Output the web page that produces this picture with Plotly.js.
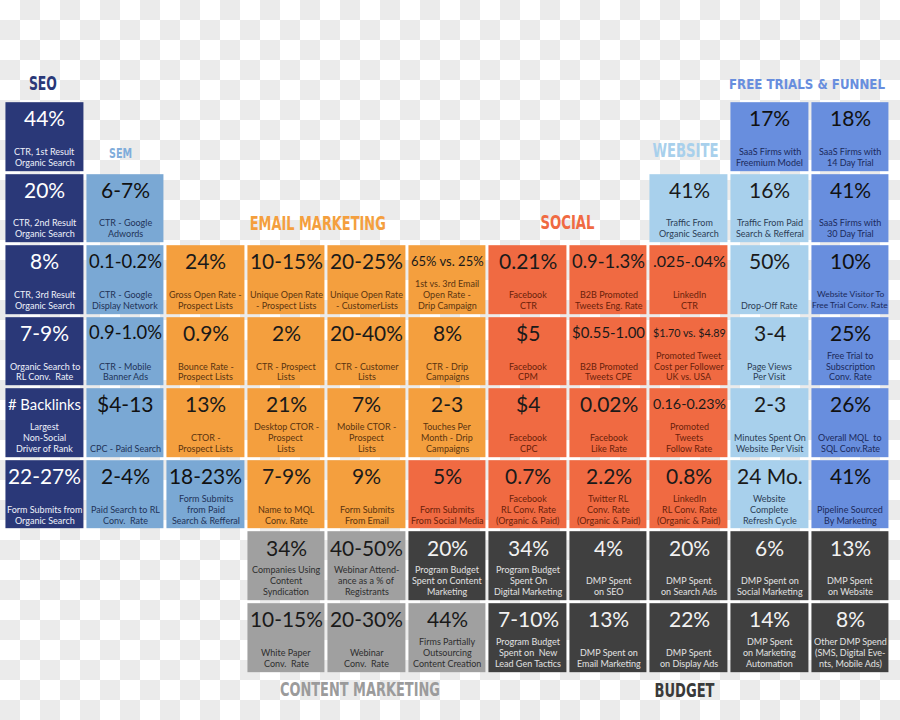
<!DOCTYPE html>
<html>
<head>
<meta charset="utf-8">
<script src="https://cdn.plot.ly/plotly-3.0.1.min.js"></script>
<style>
  html, body { margin: 0; padding: 0; }
  body {
    width: 900px; height: 720px; overflow: hidden;
    background-color: #ffffff;
    background-image: repeating-conic-gradient(#ebebeb 0 25%, #ffffff 0 50%);
    background-size: 40px 40px;
  }
  #chart { width: 900px; height: 720px; }
</style>
</head>
<body>
<div id="chart"></div>
<script>
// ---------------- DATA ----------------
const sections = ["SEO", "SEM", "EMAIL MARKETING", "SOCIAL", "WEBSITE",
                  "FREE TRIALS & FUNNEL", "CONTENT MARKETING", "BUDGET"];

// section index of each cell (rows top->bottom, columns left->right), null = empty
const cellSection = [
  [0, null, null, null, null, null, null, null, null, 5, 5],
  [0, 1, null, null, null, null, null, null, 4, 4, 5],
  [0, 1, 2, 2, 2, 2, 3, 3, 3, 4, 5],
  [0, 1, 2, 2, 2, 2, 3, 3, 3, 4, 5],
  [0, 1, 2, 2, 2, 2, 3, 3, 3, 4, 5],
  [0, 1, 1, 2, 2, 3, 3, 3, 3, 4, 5],
  [null, null, null, 6, 6, 7, 7, 7, 7, 7, 7],
  [null, null, null, 6, 6, 6, 7, 7, 7, 7, 7]
];

const cellValues = [
  ["44%", null, null, null, null, null, null, null, null, "17%", "18%"],
  ["20%", "6-7%", null, null, null, null, null, null, "41%", "16%", "41%"],
  ["8%", "0.1-0.2%", "24%", "10-15%", "20-25%", "65% vs. 25%", "0.21%", "0.9-1.3%", ".025-.04%", "50%", "10%"],
  ["7-9%", "0.9-1.0%", "0.9%", "2%", "20-40%", "8%", "$5", "$0.55-1.00", "$1.70 vs. $4.89", "3-4", "25%"],
  ["# Backlinks", "$4-13", "13%", "21%", "7%", "2-3", "$4", "0.02%", "0.16-0.23%", "2-3", "26%"],
  ["22-27%", "2-4%", "18-23%", "7-9%", "9%", "5%", "0.7%", "2.2%", "0.8%", "24 Mo.", "41%"],
  [null, null, null, "34%", "40-50%", "20%", "34%", "4%", "20%", "6%", "13%"],
  [null, null, null, "10-15%", "20-30%", "44%", "7-10%", "13%", "22%", "14%", "8%"]
];

const cellLabels = [
  ["CTR, 1st Result<br>Organic Search", null, null, null, null, null, null, null, null,
   "SaaS Firms with<br>Freemium Model", "SaaS Firms with<br>14 Day Trial"],
  ["CTR, 2nd Result<br>Organic Search", "CTR - Google<br>Adwords", null, null, null, null, null, null,
   "Traffic From<br>Organic Search", "Traffic From Paid<br>Search & Refferal", "SaaS Firms with<br>30 Day Trial"],
  ["CTR, 3rd Result<br>Organic Search", "CTR - Google<br>Display Network", "Gross Open Rate -<br>Prospect Lists",
   "Unique Open Rate<br>- Prospect Lists", "Unique Open Rate<br>- CustomerLists",
   "1st vs. 3rd Email<br>Open Rate -<br>Drip Campaign", "Facebook<br>CTR", "B2B Promoted<br>Tweets Eng. Rate",
   "LinkedIn<br>CTR", "Drop-Off Rate", "Website Visitor To<br>Free Trial Conv. Rate"],
  ["Organic Search to<br>RL Conv.  Rate", "CTR - Mobile<br>Banner Ads", "Bounce Rate -<br>Prospect Lists",
   "CTR - Prospect<br>Lists", "CTR - Customer<br>Lists", "CTR - Drip<br>Campaigns", "Facebook<br>CPM",
   "B2B Promoted<br>Tweets CPE", "Promoted Tweet<br>Cost per Follower<br>UK vs. USA", "Page Views<br>Per Visit",
   "Free Trial to<br>Subscription<br>Conv. Rate"],
  ["Largest<br>Non-Social<br>Driver of Rank", "CPC - Paid Search", "CTOR -<br>Prospect Lists",
   "Desktop CTOR -<br>Prospect<br>Lists", "Mobile CTOR -<br>Prospect<br>Lists", "Touches Per<br>Month - Drip<br>Campaigns",
   "Facebook<br>CPC", "Facebook<br>Like Rate", "Promoted<br>Tweets<br>Follow Rate",
   "Minutes Spent On<br>Website Per Visit", "Overall MQL  to<br>SQL Conv.Rate"],
  ["Form Submits from<br>Organic Search", "Paid Search to RL<br>Conv.  Rate", "Form Submits<br>from Paid<br>Search & Refferal",
   "Name to MQL<br>Conv. Rate", "Form Submits<br>From Email", "Form Submits<br>From Social Media",
   "Facebook<br>RL Conv. Rate<br>(Organic & Paid)", "Twitter RL<br>Conv. Rate<br>(Organic & Paid)",
   "LinkedIn<br>RL Conv. Rate<br>(Organic & Paid)", "Website<br>Complete<br>Refresh Cycle", "Pipeline Sourced<br>By Marketing"],
  [null, null, null, "Companies Using<br>Content<br>Syndication", "Webinar Attend-<br>ance as a % of<br>Registrants",
   "Program Budget<br>Spent on Content<br>Marketing", "Program Budget<br>Spent On<br>Digital Marketing",
   "DMP Spent<br>on SEO", "DMP Spent<br>on Search Ads", "DMP Spent on<br>Social Marketing", "DMP Spent<br>on Website"],
  [null, null, null, "White Paper<br>Conv.  Rate", "Webinar<br>Conv.  Rate", "Firms Partially<br>Outsourcing<br>Content Creation",
   "Program Budget<br>Spent on  New<br>Lead Gen Tactics", "DMP Spent on<br>Email Marketing", "DMP Spent<br>on Display Ads",
   "DMP Spent<br>on Marketing<br>Automation", "Other DMP Spend<br>(SMS, Digital Eve-<br>nts, Mobile Ads)"]
];

// ---------------- STYLE ----------------
const fillColors  = ["#2a3878", "#7aa8d4", "#f49f3e", "#f06a42", "#a8d0ec", "#688ede", "#a0a0a0", "#404040"];
const valueColors = ["#ffffff", "#111111", "#1a1a1a", "#1a1a1a", "#1a1a1a", "#111111", "#1a1a1a", "#f2f2f2"];
const labelColors = ["#eef1fa", "#1f3358", "#5a3410", "#6a1f0a", "#2c3d55", "#1b2a5c", "#2e2e2e", "#e2e2e2"];
const titleColors = ["#2a3878", "#80addb", "#f49f3e", "#f06a42", "#a8d0ec", "#688ede", "#9b9b9b", "#3a3a3a"];

const cellFont  = "Lato, 'Open Sans', 'Noto Sans', sans-serif";
const titleFont = "'Liberation Sans Narrow', 'DejaVu Sans Condensed', 'Roboto', sans-serif";

const ctx = document.createElement('canvas').getContext('2d');
function textWidth(text, family, size, weight) {
  ctx.font = (weight || 'normal') + ' ' + size + 'px ' + family;
  return ctx.measureText(text).width;
}
function fitSize(text, family, base, maxW, weight) {
  const w = textWidth(text, family, base, weight);
  return w > maxW ? base * maxW / w : base;
}

const nRows = cellSection.length, nCols = cellSection[0].length;
const colIdx = [...Array(nCols).keys()];
const rowIdx = [...Array(nRows).keys()];

// discrete colorscale
const K = fillColors.length;
const colorscale = [];
fillColors.forEach((c, i) => { colorscale.push([i / K, c]); colorscale.push([(i + 1) / K, c]); });

const trace = {
  type: 'heatmap',
  x: colIdx, y: rowIdx, z: cellSection,
  zmin: -0.5, zmax: K - 0.5,
  colorscale: colorscale, showscale: false,
  xgap: 3, ygap: 3, hoverinfo: 'skip'
};

const LABEL_SIZE = 9, LABEL_PITCH = 10.9;
const annotations = [];
for (let r = 0; r < nRows; r++) {
  for (let c = 0; c < nCols; c++) {
    const s = cellSection[r][c];
    if (s === null) continue;
    const v = cellValues[r][c];
    annotations.push({
      x: c, y: r - 0.5, xref: 'x', yref: 'y', yanchor: 'middle', xanchor: 'center',
      yshift: -16.5, showarrow: false, text: v, borderpad: 0,
      font: { family: cellFont, size: fitSize(v, cellFont, 21, 73), color: valueColors[s] }
    });
    const lines = cellLabels[r][c].split('<br>');
    let ls = LABEL_SIZE;
    lines.forEach(l => { ls = Math.min(ls, fitSize(l, cellFont, LABEL_SIZE, 76)); });
    lines.forEach((l, i) => {
      annotations.push({
        x: c, y: r + 0.5, xref: 'x', yref: 'y', yanchor: 'middle', xanchor: 'center',
        yshift: 10.5 + (lines.length - 1 - i) * LABEL_PITCH, showarrow: false, text: l, borderpad: 0,
        font: { family: cellFont, size: ls, color: labelColors[s] }
      });
    });
  }
}

// section titles: [pixel center x, pixel center y, target width, cap height]
const titlePlace = [
  [43, 83, 28, 15], [120.5, 152.5, 23, 13], [318, 223, 136, 15], [567, 222.5, 54, 15],
  [685, 150.5, 66, 15], [807, 84, 156, 14], [360, 689.5, 160, 17], [684, 690, 60, 16]
];
const titleStart = annotations.length;
sections.forEach((t, i) => {
  const p = titlePlace[i];
  let size = p[3] / 0.72;
  // keep the un-compressed text box close to its final width and inside the page
  const room = Math.min(2 * Math.min(p[0], 900 - p[0]) - 24, p[2] * 1.35);
  const w = textWidth(t, titleFont, size, 'bold');
  if (w > room) size = size * room / w;
  annotations.push({
    x: p[0] / 900, y: 1 - p[1] / 720, xref: 'paper', yref: 'paper',
    xanchor: 'center', yanchor: 'middle', showarrow: false, text: '<b>' + t + '</b>', borderpad: 0,
    font: { family: titleFont, size: size, color: titleColors[i], weight: 700 }
  });
});

const layout = {
  width: 900, height: 720,
  margin: { l: 0, r: 0, t: 0, b: 0, pad: 0 },
  paper_bgcolor: 'rgba(0,0,0,0)', plot_bgcolor: 'rgba(0,0,0,0)',
  xaxis: { range: [-0.555, 10.618], visible: false, fixedrange: true },
  yaxis: { range: [8.1466, -1.9135], visible: false, fixedrange: true },
  showlegend: false,
  annotations: annotations
};

Plotly.newPlot('chart', [trace], layout, { displayModeBar: false, staticPlot: true }).then(() => {
  // compress section titles horizontally to the reference's condensed width
  sections.forEach((t, i) => {
    const g = document.querySelector('.annotation[data-index="' + (titleStart + i) + '"] text.annotation-text');
    if (g) {
      g.setAttribute('textLength', titlePlace[i][2]);
      g.setAttribute('lengthAdjust', 'spacingAndGlyphs');
    }
  });
});
</script>
</body>
</html>
